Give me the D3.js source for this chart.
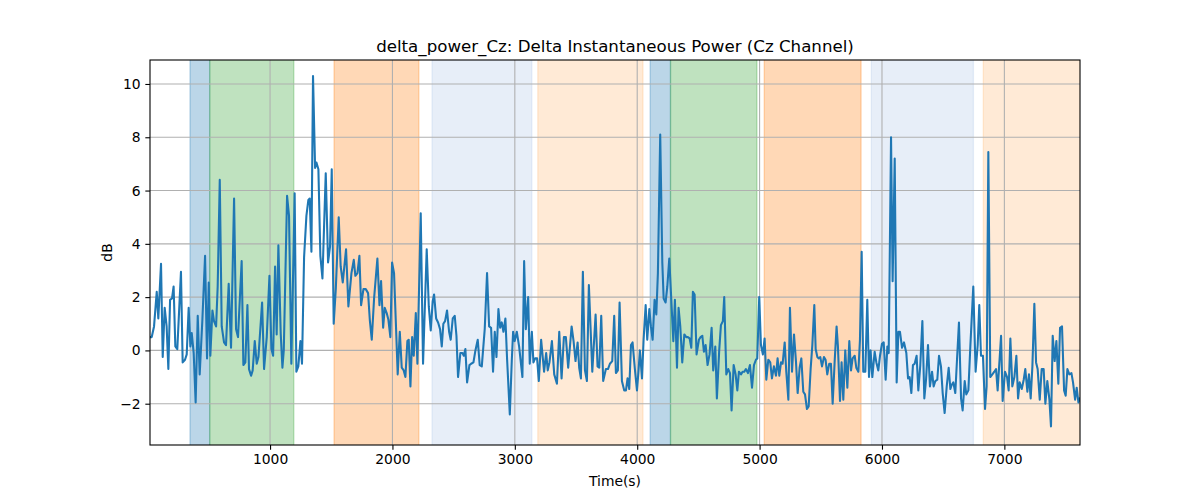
<!DOCTYPE html>
<html><head><meta charset="utf-8">
<script src="https://cdn.jsdelivr.net/npm/d3@7"></script>
<style>
body{margin:0;background:#fff}
svg{display:block}
text{font-family:"DejaVu Sans",sans-serif;fill:#000}
</style>
</head><body>
<svg id="chart" width="1200" height="500"></svg>
<script>
// ---- data ----
const timeSec = [
  19,33,52,74,87,109,123,139,155,169,183,199,212,226,242,272,286,305,319,335,
  349,360,376,392,409,425,447,469,485,499,512,529,542,559,572,589,605,624,640,662,
  681,706,722,738,768,782,798,815,828,845,858,875,891,905,935,951,973,995,1011,1025,
  1041,1054,1068,1087,1101,1112,
  1139,1155,1174,1201,1215,1231,1248,1261,1278,1297,1313,1324,1338,1351,1368,1379,1395,1411,1428,1455,
  1474,1490,1504,1520,1537,1561,1577,1594,1621,1640,1665,1684,1697,1714,1730,1744,1763,1782,1801,1815,
  1831,1850,1877,1894,1907,1924,1937,1953,1967,1983,1997,2013,2027,2043,2060,2076,2092,2106,2122,2133,
  2147,2161,2174,2191,2204,
  2231,2250,2280,2297,2313,2329,2340,2357,2373,2389,2403,2416,2430,2446,2463,2476,2493,2509,2523,2536,
  2555,2572,2583,2596,2610,2629,2643,2662,2678,2697,2713,2730,2754,2773,2790,2806,2822,2836,2850,2866,
  2880,2893,2907,2923,2937,2959,2975,2986,2999,3016,3035,3062,3076,3090,3109,3122,3139,3152,3166,3182,
  3196,3215,3239,3256,3269,3283,
  3303,3322,3344,3363,3382,3401,3417,3436,3464,3480,3496,3513,3526,3540,3556,3573,3589,3605,3633,3660,
  3676,3690,3706,3722,3744,3761,3777,3796,3812,3826,3842,3856,3875,3894,3908,3921,3935,3949,3962,3981,
  3998,4011,4022,4039,4052,4069,4082,4099,4112,4126,4142,4156,4169,4188,4205,4216,4232,4246,4262,4278,
  4295,4308,4325,4338,4352,4368,4385,
  4401,4414,4428,4442,4455,4469,4485,4504,4518,4532,4545,4559,4575,4591,4608,4621,4638,4651,4670,4684,
  4700,4711,4728,4744,4758,4771,4788,4804,4818,4831,4848,4861,4875,4888,4905,4921,4938,4954,4970,4981,
  4997,5011,5027,5041,5055,5071,5087,5101,5117,5134,5147,5161,5175,5188,5205,5218,5235,5248,5265,5281,
  5297,5311,5327,5341,5357,5371,5387,5401,5417,5431,5447,5458,5472,
  5482,5496,5510,5526,5539,5553,5569,5583,5597,5613,5629,5640,5657,5670,5684,5700,5717,5733,5747,5760,
  5777,5790,5807,5820,5834,5847,5864,5880,5894,5907,5921,5940,5954,5970,5984,6000,6014,6030,6044,6055,
  6074,6087,6104,6120,6134,6147,6164,6180,6199,6213,6226,6240,6253,6267,6283,6297,6313,6330,6346,6360,
  6376,6392,6409,6422,6436,6452,6466,6482,6496,6512,6529,6545,6559,
  6569,6583,6599,6613,6629,6646,6659,6676,6689,6706,6722,6746,6765,6782,6795,6809,6825,6842,6855,6869,
  6885,6902,6918,6932,6945,6973,6986,7005,7022,7035,7049,7065,7082,7098,7112,7125,7142,7158,7171,7188,
  7201,7215,7229,7245,7259,7272,7289,7305,7321,7335,7351,7368,7381,7395,7411,7425,7441,7455,7471,7488,
  7501,7515,7531,7548,7561,7578,7591,7605,7618
];
const powerDb = [
  0.5,0.5,0.9,2.2,1.2,3.25,-0.25,1.6,0.9,-0.7,1.9,1.95,2.4,0.15,0.05,2.95,-0.45,-0.35,-0.15,1.6,
  0.15,0.65,-0.1,-1.95,1.3,-0.9,1.15,3.55,-0.3,2.55,-0.2,1.5,1.1,0.9,2.4,6.4,0.9,0.3,0.2,2.5,
  0.1,5.7,0.8,0.5,3.35,-0.55,-0.45,1.7,-0.7,-0.95,-0.75,0.35,-0.5,-0.25,1.8,-0.7,0.5,2.8,0.05,-0.2,
  3.15,0.6,3.95,0.65,-0.65,0.0,
  5.8,5.05,-0.5,5.9,-0.8,-0.6,0.35,-0.5,3.5,5.05,5.65,5.7,3.7,10.3,6.85,7.05,6.8,3.55,2.7,6.65,
  3.3,3.9,6.8,1.0,2.3,5.0,3.15,2.55,3.8,1.65,2.9,3.4,2.8,2.9,3.55,1.7,2.3,2.3,2.15,1.15,
  0.4,1.95,3.45,1.7,2.6,0.85,1.6,1.4,1.15,0.5,3.3,2.9,1.15,-0.9,0.7,-0.65,-0.75,-1.0,0.35,0.4,
  -1.35,0.5,-0.2,1.4,-0.5,
  5.15,-0.5,3.8,1.65,0.75,1.85,2.1,1.2,1.05,0.8,0.15,1.0,1.1,1.5,0.7,0.4,1.2,1.3,0.55,-1.0,
  -0.1,-0.1,-0.2,0.05,-1.2,-0.55,-0.5,-0.45,0.0,0.4,-0.55,-0.6,0.8,2.9,0.9,0.85,-0.8,0.7,-0.25,1.55,
  0.85,1.05,0.7,1.2,-0.35,-2.4,-0.4,0.7,0.35,0.7,0.15,-1.0,3.35,0.8,2.0,-0.5,0.7,-0.45,-0.3,-0.3,
  -1.15,0.4,-0.8,-0.1,-0.75,-0.45,
  0.35,-0.9,-1.25,0.7,-1.05,0.5,0.5,-0.65,0.9,0.35,-0.4,0.3,-0.65,-1.05,2.95,-0.75,-1.15,2.45,-0.8,1.35,
  -0.6,-0.65,1.3,-1.15,-0.7,-0.7,-0.5,-0.4,1.3,-0.85,-0.75,1.8,-1.15,-1.5,-1.5,-1.05,-1.45,0.2,0.3,-0.7,
  -1.5,-0.75,0.0,-1.05,0.4,1.7,0.4,1.55,0.9,0.4,1.9,1.35,2.9,8.1,3.3,1.95,1.8,2.4,3.45,1.95,
  0.35,1.9,-0.65,1.6,0.9,-0.45,0.6,
  0.5,0.5,0.45,0.1,2.2,2.1,-0.15,0.4,0.5,0.55,-0.05,0.2,-0.55,-0.15,0.85,-0.75,0.15,-1.8,0.0,0.95,
  1.1,2.0,-0.9,-0.7,-0.85,-2.25,-0.55,-0.9,-1.5,-0.8,-0.9,-0.8,-0.8,-0.7,-0.85,-0.55,-1.4,-0.55,-0.35,-0.3,
  2.0,0.2,-0.15,0.45,-1.1,-0.35,-0.45,-1.05,-0.6,-0.95,-0.3,-0.95,-0.45,-0.5,0.3,-0.8,-1.85,1.6,-0.8,0.6,
  -0.4,-1.6,-0.65,-0.3,-1.55,-1.65,-2.2,-2.1,-0.7,0.2,1.7,0.05,-0.25,
  -0.3,-0.25,-0.6,-0.25,-0.35,-0.9,-0.5,-0.5,-2.0,-0.45,0.9,0.15,-1.9,-0.45,-1.85,0.0,-1.4,0.35,-0.75,-0.3,
  -0.2,-0.65,-0.8,0.4,3.7,-0.8,-0.8,1.9,-1.0,0.0,-1.0,-0.05,-0.45,-0.75,-0.2,0.25,0.3,-1.1,0.15,-0.1,
  8.0,2.6,7.2,-1.2,0.7,0.7,0.1,0.3,-0.1,-1.05,-1.0,-1.6,-0.55,-0.5,-0.2,-1.5,-0.55,1.1,-1.8,-1.1,
  0.2,-1.35,-0.8,-1.35,-1.15,-1.1,-0.2,-0.6,-1.6,-2.35,-1.35,-0.65,-1.45,
  -1.3,-1.2,-1.6,-0.35,1.05,-1.8,-2.25,-1.15,-1.65,-1.5,0.15,2.4,-0.8,0.2,1.7,-0.2,-0.2,-2.2,-1.35,7.45,
  -1.0,-0.9,-0.8,-0.7,-1.5,0.55,-1.9,-0.8,-1.0,-1.5,0.45,-1.35,-1.0,-0.2,-1.8,-1.2,-1.45,-1.1,-0.7,-1.55,
  -0.9,-1.8,-0.6,1.75,-0.45,-0.7,-1.85,-0.7,-0.7,-2.0,-1.15,-1.85,-2.85,0.55,-0.4,0.35,-1.25,0.85,0.9,-1.5,
  -1.7,-0.7,-0.9,-0.85,-1.2,-1.85,-1.4,-1.95,-1.8
];
// shaded stage intervals (seconds)
const spanStart = [346, 507, 1523, 2324, 3188, 4106, 4272, 5038, 5913, 6828];
const spanEnd   = [507, 1194, 2216, 3139, 4047, 4272, 4978, 5829, 6747, 7700];
const spanColor = ["#1f77b4","#2ca02c","#ff7f0e","#aec7e8","#ffbb78",
                   "#1f77b4","#2ca02c","#ff7f0e","#aec7e8","#ffbb78"];
const xTicks = [1000, 2000, 3000, 4000, 5000, 6000, 7000];
const yTicks = [-2, 0, 2, 4, 6, 8, 10];
const yRange = [-3.55, 10.9];
const titleText = "delta_power_Cz: Delta Instantaneous Power (Cz Channel)";
const xLabel = "Time(s)";
const yLabel = "dB";

// ---- layout ----
const L = 150, R = 1080, T = 60, B = 445;
const svg = d3.select("#chart");
const x = d3.scaleLinear().domain([d3.min(timeSec), d3.max(timeSec)]).range([L, R]);
const y = d3.scaleLinear().domain(yRange).range([B, T]);

svg.append("defs").append("clipPath").attr("id","clip")
  .append("rect").attr("x",L).attr("y",T).attr("width",R-L).attr("height",B-T);

const plot = svg.append("g").attr("clip-path","url(#clip)");

// spans
plot.selectAll("rect.span").data(spanStart).join("rect")
  .attr("class","span")
  .attr("x",(d,i)=>x(d))
  .attr("width",(d,i)=>x(spanEnd[i])-x(d))
  .attr("y",T-2).attr("height",B-T+4)
  .attr("fill",(d,i)=>spanColor[i]).attr("fill-opacity",0.3)
  .attr("stroke",(d,i)=>spanColor[i]).attr("stroke-opacity",0.3).attr("stroke-width",1.3);

// grid
const grid = plot.append("g");
grid.selectAll("line.gx").data(xTicks).join("line")
  .attr("x1",d=>x(d)).attr("x2",d=>x(d))
  .attr("y1",T).attr("y2",B).attr("stroke","#b0b0b0").attr("stroke-width",1.1);
grid.selectAll("line.gy").data(yTicks).join("line")
  .attr("y1",d=>y(d)).attr("y2",d=>y(d))
  .attr("x1",L).attr("x2",R).attr("stroke","#b0b0b0").attr("stroke-width",1.1);

// line
const pts = timeSec.map((t,i)=>[t, powerDb[i]]);
plot.append("path").datum(pts)
  .attr("fill","none").attr("stroke","#1f77b4").attr("stroke-width",2.08)
  .attr("stroke-linejoin","round").attr("stroke-linecap","square")
  .attr("d", d3.line().x(d=>x(d[0])).y(d=>y(d[1])));

// axes
const fmt = d3.format("d");
const xAxis = svg.append("g").attr("transform",`translate(0,${B})`)
  .call(d3.axisBottom(x).tickValues(xTicks).tickFormat(fmt).tickSizeInner(4.67).tickSizeOuter(0).tickPadding(4.67));
const yAxis = svg.append("g").attr("transform",`translate(${L},0)`)
  .call(d3.axisLeft(y).tickValues(yTicks).tickFormat(d=>fmt(d).replace("-","\u2212")).tickSizeInner(4.67).tickSizeOuter(0).tickPadding(4.67));
[xAxis,yAxis].forEach(g=>{
  g.select(".domain").remove();
  g.selectAll("line").attr("stroke","#000").attr("stroke-width",1.1);
  g.selectAll("text").attr("font-family","DejaVu Sans").attr("font-size","13.89px").attr("fill","#000");
});

// spines
svg.append("rect").attr("x",L).attr("y",T).attr("width",R-L).attr("height",B-T)
  .attr("fill","none").attr("stroke","#000").attr("stroke-width",1.1);

// labels
svg.append("text").attr("x",(L+R)/2).attr("y",52).attr("text-anchor","middle")
  .attr("font-size","16.67px").text(titleText);
svg.append("text").attr("x",(L+R)/2).attr("y",486).attr("text-anchor","middle")
  .attr("font-size","13.89px").text(xLabel);
svg.append("text").attr("transform",`translate(112,${(T+B)/2}) rotate(-90)`)
  .attr("text-anchor","middle").attr("font-size","13.89px").text(yLabel);
</script>
</body></html>
